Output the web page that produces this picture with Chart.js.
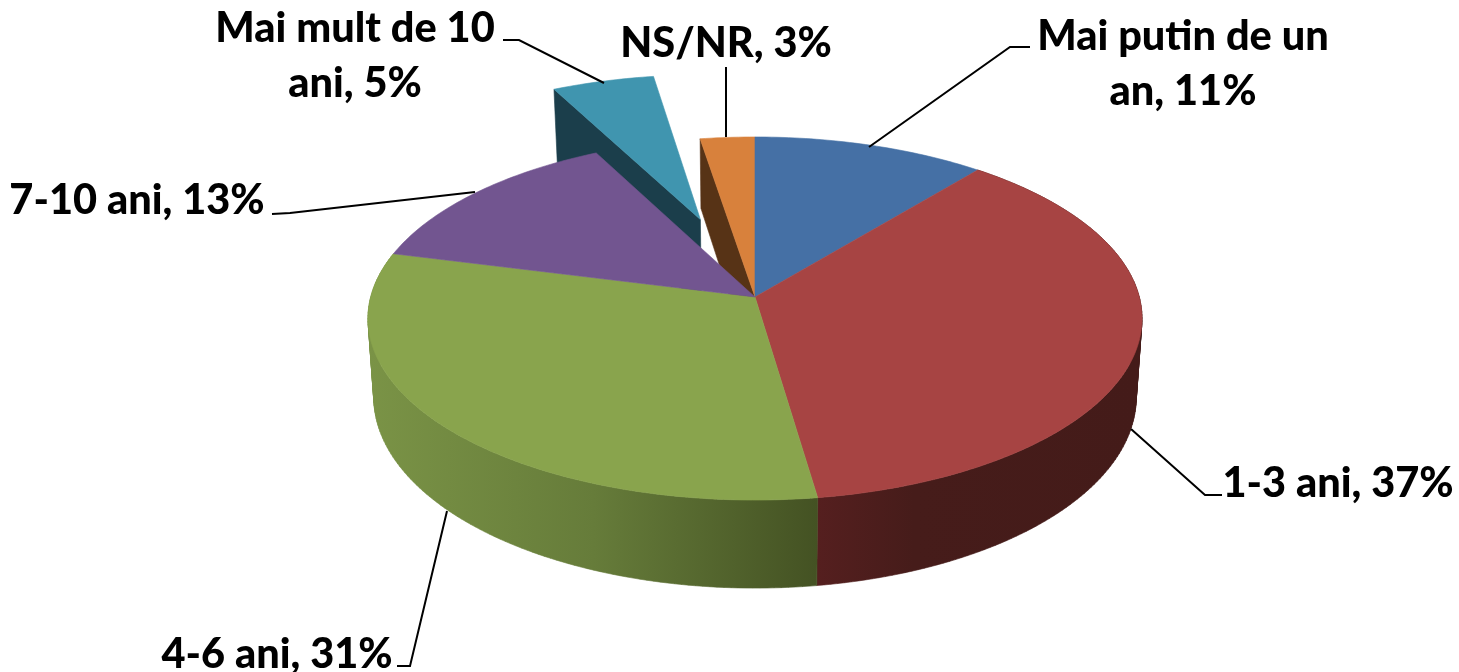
<!DOCTYPE html>
<html>
<head>
<meta charset="utf-8">
<title>Pie</title>
<style>
  body { margin: 0; background: #fff; }
  canvas { display: block; }
</style>
<script src="https://cdn.jsdelivr.net/npm/chart.js@4"></script>
</head>
<body>
<canvas id="pie" width="1459" height="672"></canvas>
<script>
const categories = ["Mai putin de un an", "1-3 ani", "4-6 ani", "7-10 ani", "Mai mult de 10 ani", "NS/NR"];
const shares = [10.9, 36.8, 31.3, 13.45, 5, 2.55];
const shownPercent = [11, 37, 31, 13, 5, 3];
const explode = [0, 0, 0, 0, 0.48, 0];

const topColors = ["#4570a5", "#a74443", "#89a44d", "#725590", "#4095af", "#d8813c"];
const innerWallColors = [null, null, null, null, "#1b3e4b", "#573316"];
const innerWallDepth = [0, 0, 0, 0, 1.2, 1];

const view = { cx: 755, cy: 297, a: 384.3, b: 179, k: 0.1185, depth: 77.6, shrink: 0.015 };

const labelBoxes = [
  { lines: ["Mai putin de un", "an, 11%"], x: 1183, y: 50, leader: [[1030, 47], [1010, 47], [869, 147]] },
  { lines: ["1-3 ani, 37%"], x: 1338, y: 497, leader: [[1222, 495], [1205, 495], [1131, 429]] },
  { lines: ["4-6 ani, 31%"], x: 277, y: 668, leader: [[397, 666], [410, 666], [447, 511]] },
  { lines: ["7-10 ani, 13%"], x: 137, y: 214, leader: [[272, 214], [290, 213], [475, 192]] },
  { lines: ["Mai mult de 10", "ani, 5%"], x: 355, y: 42, leader: [[503, 40], [519, 40], [604, 83]] },
  { lines: ["NS/NR, 3%"], x: 726, y: 57, leader: [[726, 67], [726, 137]] },
];

function project(u, v, z) {
  const den = 1 - view.k * v;
  return {
    x: view.cx + (view.a * u / den) * (1 - view.shrink * z),
    y: view.cy + view.b * v / den + z * view.depth / den,
  };
}

function slicePoint(arc, angle, explodeBy, z, radius) {
  const mid = (arc.startAngle + arc.endAngle) / 2;
  const u = radius * Math.cos(angle) + explodeBy * Math.cos(mid);
  const v = radius * Math.sin(angle) + explodeBy * Math.sin(mid);
  return project(u, v, z);
}

function rimAngles(arc) {
  const steps = Math.max(4, Math.ceil((arc.endAngle - arc.startAngle) * 60));
  const out = [];
  for (let i = 0; i <= steps; i++) {
    out.push(arc.startAngle + (arc.endAngle - arc.startAngle) * i / steps);
  }
  return out;
}

function fillPoly(ctx, pts, fill) {
  ctx.beginPath();
  pts.forEach((p, i) => (i ? ctx.lineTo(p.x, p.y) : ctx.moveTo(p.x, p.y)));
  ctx.closePath();
  ctx.fillStyle = fill;
  ctx.fill();
  ctx.strokeStyle = fill;
  ctx.lineWidth = 0.6;
  ctx.stroke();
}

function signedArea(pts) {
  let sum = 0;
  pts.forEach((p, i) => {
    const q = pts[(i + 1) % pts.length];
    sum += p.x * q.y - q.x * p.y;
  });
  return sum;
}

function outerWallFill(ctx, index) {
  if (index === 2) {
    const g = ctx.createLinearGradient(370, 0, 817, 0);
    g.addColorStop(0, "#7a9346");
    g.addColorStop(0.5, "#667c3a");
    g.addColorStop(1, "#445223");
    return g;
  }
  const g = ctx.createLinearGradient(817, 0, 1140, 0);
  g.addColorStop(0, "#551f1f");
  g.addColorStop(0.3, "#461c1a");
  g.addColorStop(1, "#441b19");
  return g;
}

const pie3d = {
  id: "pie3d",
  beforeDatasetDraw(chart, args) {
    const ctx = chart.ctx;
    const arcs = chart.getDatasetMeta(args.index).data;
    ctx.save();

    // inner cut faces of the two back slices
    arcs.forEach((arc, i) => {
      if (!innerWallColors[i]) return;
      const e = explode[i];
      const z = innerWallDepth[i];
      fillPoly(ctx, [
        slicePoint(arc, arc.startAngle, e, 0, 1),
        slicePoint(arc, arc.startAngle, e, z, 1),
        slicePoint(arc, arc.startAngle, e, z, 0),
        slicePoint(arc, arc.startAngle, e, 0, 0),
      ], innerWallColors[i]);
    });

    // outer walls: all quads in one path, same winding, so no seams show
    [1, 2].forEach((i) => {
      const arc = arcs[i];
      const angles = rimAngles(arc);
      ctx.beginPath();
      for (let s = 0; s < angles.length - 1; s++) {
        let quad = [
          slicePoint(arc, angles[s], 0, 0, 1),
          slicePoint(arc, angles[s + 1], 0, 0, 1),
          slicePoint(arc, angles[s + 1], 0, 1, 1),
          slicePoint(arc, angles[s], 0, 1, 1),
        ];
        if (signedArea(quad) < 0) quad = quad.reverse();
        quad.forEach((p, n) => (n ? ctx.lineTo(p.x, p.y) : ctx.moveTo(p.x, p.y)));
        ctx.closePath();
      }
      const fill = outerWallFill(ctx, i);
      ctx.fillStyle = fill;
      ctx.fill("nonzero");
      ctx.strokeStyle = fill;
      ctx.lineWidth = 0.6;
      ctx.stroke();
    });

    // top faces
    [4, 5, 0, 1, 2, 3].forEach((i) => {
      const arc = arcs[i];
      const rim = rimAngles(arc).map((a) => slicePoint(arc, a, explode[i], 0, 1));
      fillPoly(ctx, [slicePoint(arc, 0, explode[i], 0, 0)].concat(rim), topColors[i]);
    });

    ctx.restore();
    return false;
  },
  afterDatasetsDraw(chart) {
    const ctx = chart.ctx;
    ctx.save();
    ctx.strokeStyle = "#000";
    ctx.lineWidth = 2;
    ctx.fillStyle = "#000";
    ctx.font = "900 41.5px Lato";
    ctx.textAlign = "center";
    ctx.textBaseline = "alphabetic";
    labelBoxes.forEach((box) => {
      ctx.beginPath();
      box.leader.forEach((p, i) => (i ? ctx.lineTo(p[0], p[1]) : ctx.moveTo(p[0], p[1])));
      ctx.stroke();
      box.lines.forEach((line, i) => ctx.fillText(line, box.x, box.y + i * 55));
    });
    ctx.restore();
  },
};

new Chart(document.getElementById("pie"), {
  type: "pie",
  data: {
    labels: categories.map((name, i) => `${name}, ${shownPercent[i]}%`),
    datasets: [{ data: shares, backgroundColor: topColors, borderWidth: 0 }],
  },
  options: {
    responsive: false,
    animation: false,
    plugins: { legend: { display: false }, tooltip: { enabled: false } },
  },
  plugins: [pie3d],
});
</script>
</body>
</html>
